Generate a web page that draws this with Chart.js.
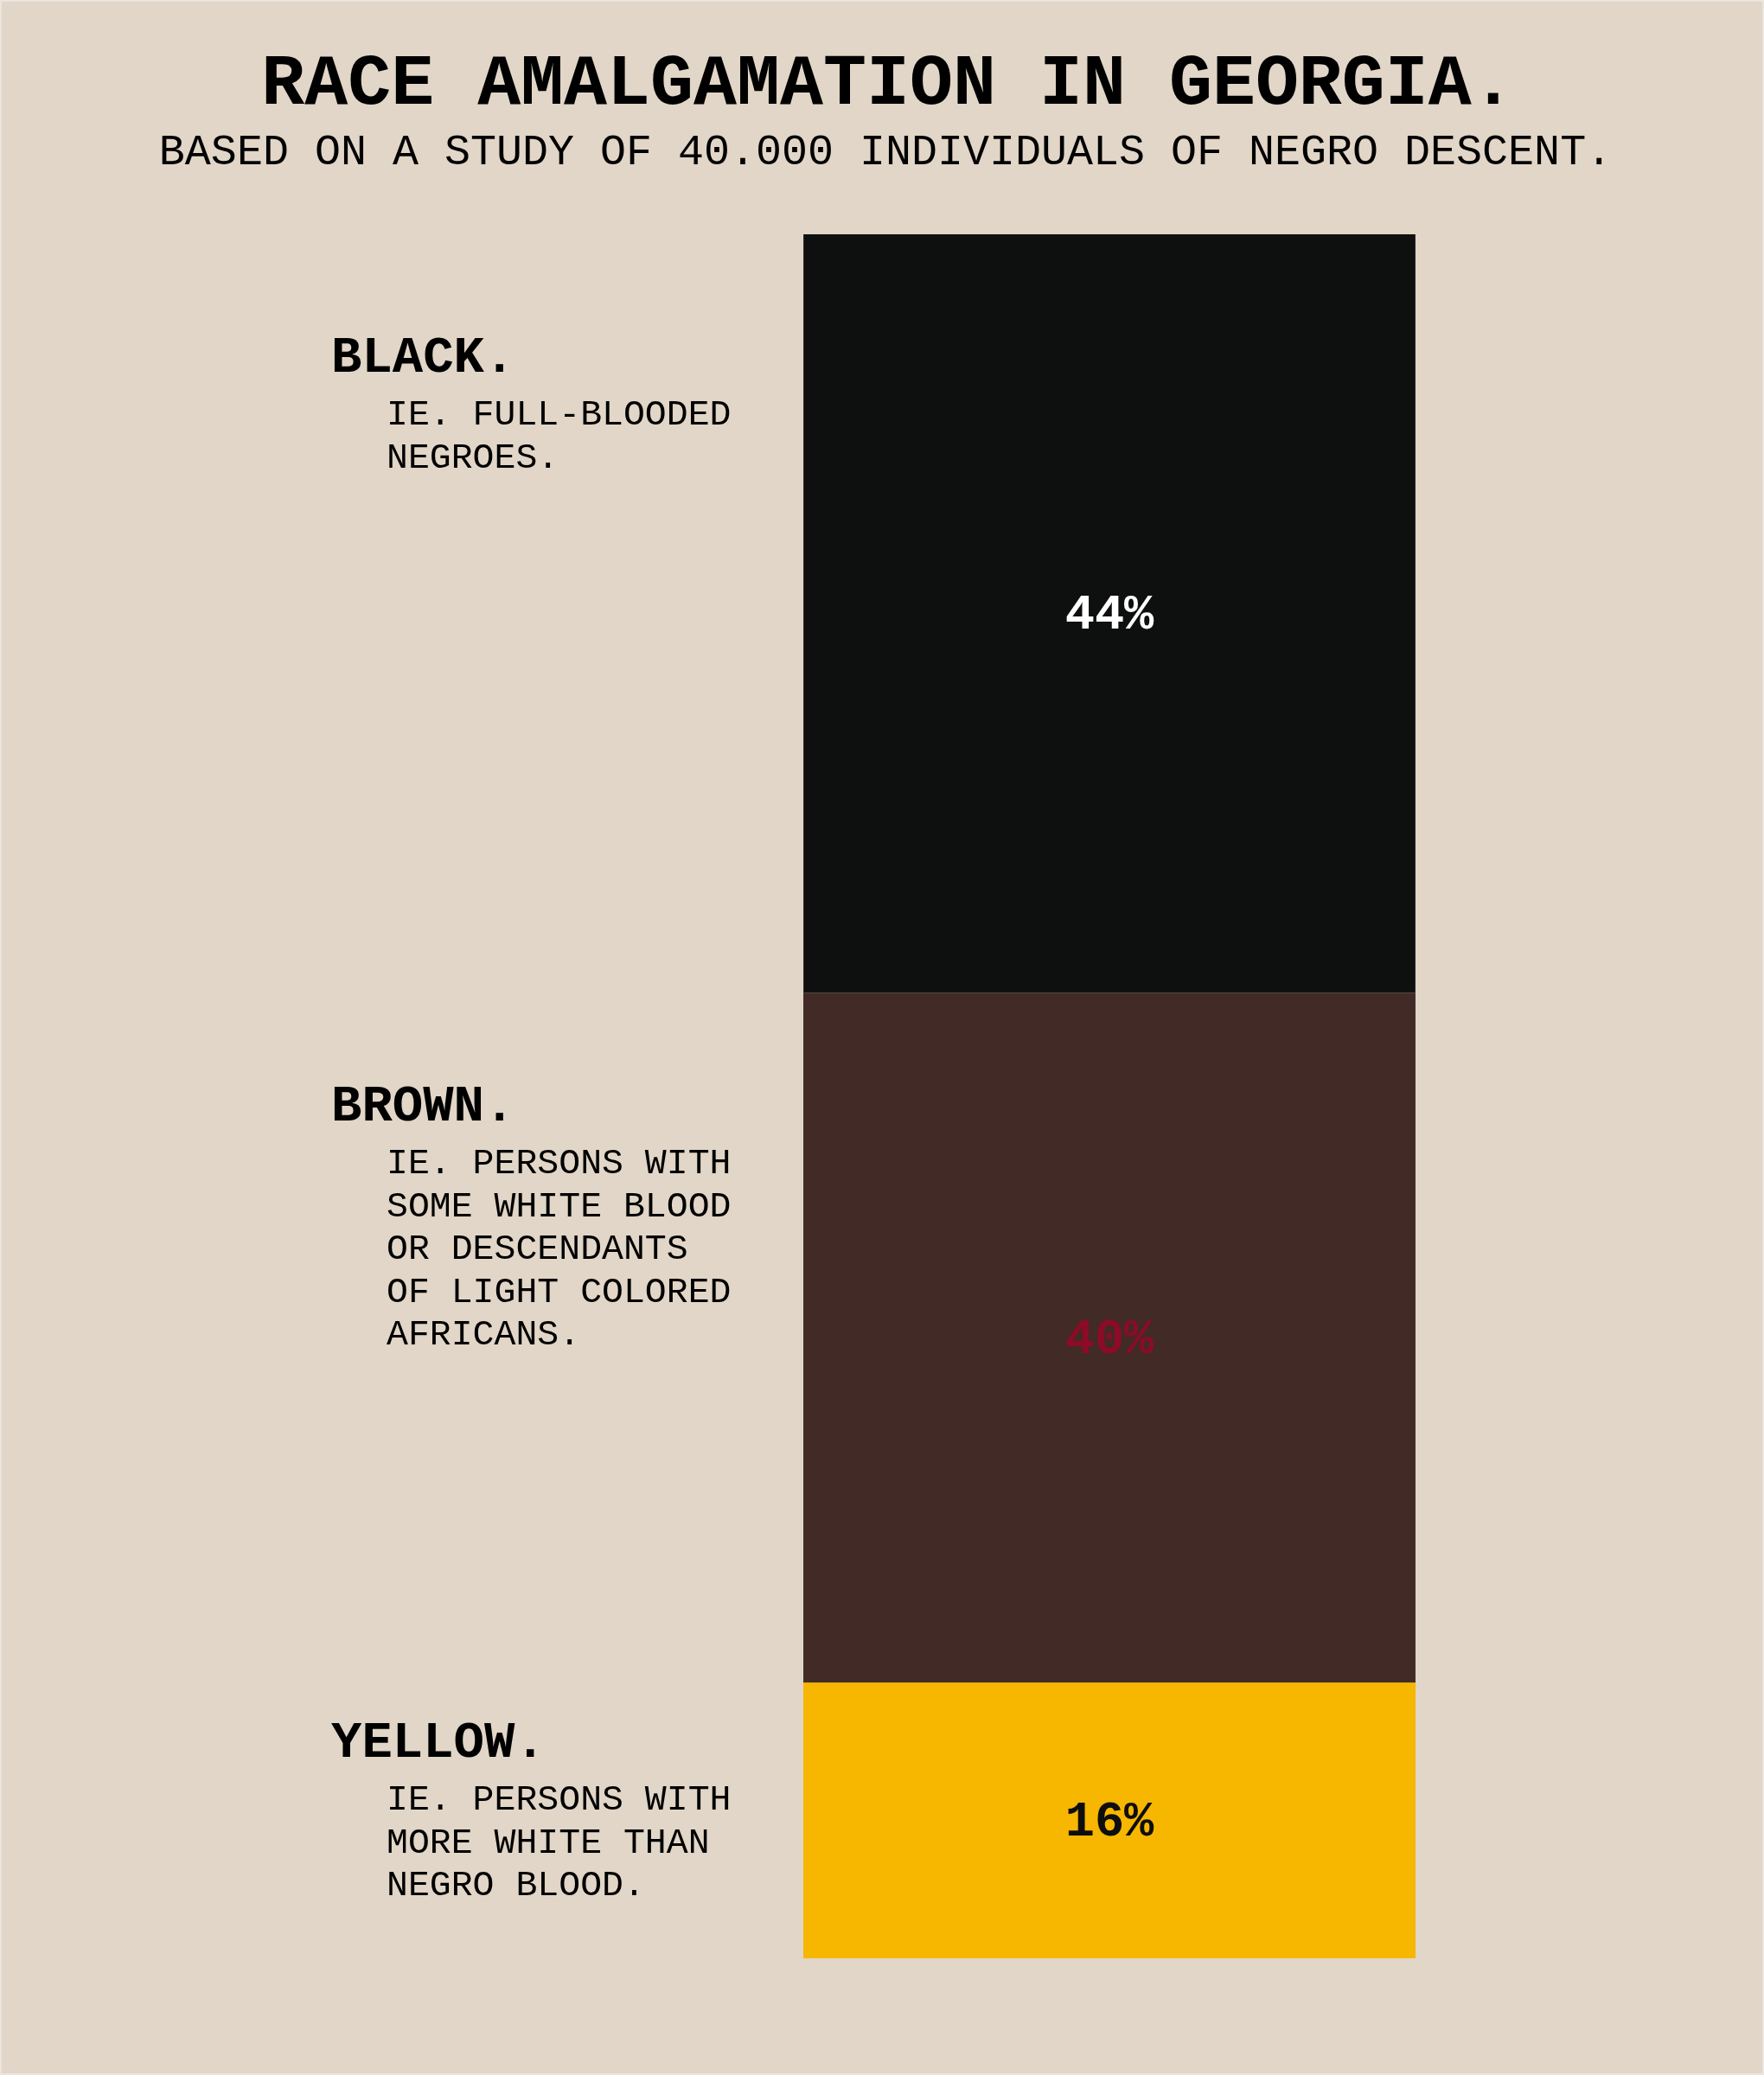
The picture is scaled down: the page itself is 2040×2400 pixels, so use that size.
<!DOCTYPE html>
<html>
<head>
<meta charset="utf-8">
<script src="https://cdn.jsdelivr.net/npm/chart.js@4/dist/chart.umd.min.js"></script>
<style>
  html, body { margin: 0; padding: 0; background: #e1d6c7; }
  canvas { display: block; }
</style>
</head>
<body>
<canvas id="c" width="2040" height="2400"></canvas>
<script>
// ---- data ----
const categories = ['GEORGIA'];
const segmentNames = ['BLACK.', 'BROWN.', 'YELLOW.'];
const segmentValues = [44, 40, 16];
const segmentDescriptions = [
  ['IE. FULL-BLOODED', 'NEGROES.'],
  ['IE. PERSONS WITH', 'SOME WHITE BLOOD', 'OR DESCENDANTS', 'OF LIGHT COLORED', 'AFRICANS.'],
  ['IE. PERSONS WITH', 'MORE WHITE THAN', 'NEGRO BLOOD.']
];
const titleText = 'RACE AMALGAMATION IN GEORGIA.';
const subtitleText = 'BASED ON A STUDY OF 40.000 INDIVIDUALS OF NEGRO DESCENT.';

// ---- styles / layout ----
const segmentColors = ['#0e100f', '#422a26', '#f7b600'];
const valueTextColors = ['#ffffff', '#8c0b26', '#0e0e0e'];
const FONT = '"Courier New", Courier, "Nimbus Mono PS", "Nimbus Mono L", "Liberation Mono", monospace';
const labelHeaderY = [415, 1281, 2017];

const pagePlugin = {
  id: 'page',
  beforeDraw(chart) {
    const ctx = chart.ctx;
    ctx.save();
    ctx.fillStyle = '#ebe5dd';
    ctx.fillRect(0, 0, chart.width, chart.height);
    ctx.fillStyle = '#e1d6c7';
    ctx.fillRect(2, 2, chart.width - 4, chart.height - 4);
    ctx.restore();
  },
  afterDraw(chart) {
    const ctx = chart.ctx;
    ctx.save();
    ctx.fillStyle = '#000000';
    ctx.textAlign = 'center';
    ctx.textBaseline = 'middle';
    ctx.font = 'bold 83.3px ' + FONT;
    ctx.fillText(titleText, 1027, 99);
    ctx.font = '50px ' + FONT;
    ctx.fillText(subtitleText, 1024, 177);

    // side labels
    ctx.textAlign = 'left';
    segmentNames.forEach((name, i) => {
      const y0 = labelHeaderY[i];
      ctx.font = 'bold 59px ' + FONT;
      ctx.fillStyle = '#000000';
      ctx.fillText(name, 383, y0);
      ctx.font = '41.5px ' + FONT;
      segmentDescriptions[i].forEach((line, j) => {
        ctx.fillText(line, 447, y0 + 65 + j * 49.6);
      });
    });

    // value labels inside segments
    ctx.textAlign = 'center';
    ctx.font = 'bold 57px ' + FONT;
    chart.data.datasets.forEach((ds, i) => {
      const el = chart.getDatasetMeta(i).data[0];
      const props = el.getProps(['x', 'y', 'base'], true);
      ctx.fillStyle = valueTextColors[i];
      ctx.fillText(ds.data[0] + '%', props.x, (props.y + props.base) / 2 + 3);
    });
    ctx.restore();
  }
};

new Chart(document.getElementById('c'), {
  type: 'bar',
  data: {
    labels: categories,
    datasets: segmentNames.map((n, i) => ({
      label: n,
      data: [segmentValues[i]],
      backgroundColor: segmentColors[i],
      borderColor: i === 2 ? segmentColors[i] : '#3e3a37',
      borderWidth: i === 2 ? 0 : 1,
      barPercentage: 1,
      categoryPercentage: 1
    }))
  },
  options: {
    responsive: false,
    animation: false,
    devicePixelRatio: 1,
    layout: { padding: { left: 929, right: 403, top: 271, bottom: 135 } },
    scales: {
      x: { display: false, stacked: true },
      y: { display: false, stacked: true, reverse: true, min: 0, max: 100 }
    },
    plugins: { legend: { display: false }, tooltip: { enabled: false }, title: { display: false } }
  },
  plugins: [pagePlugin]
});
</script>
</body>
</html>
